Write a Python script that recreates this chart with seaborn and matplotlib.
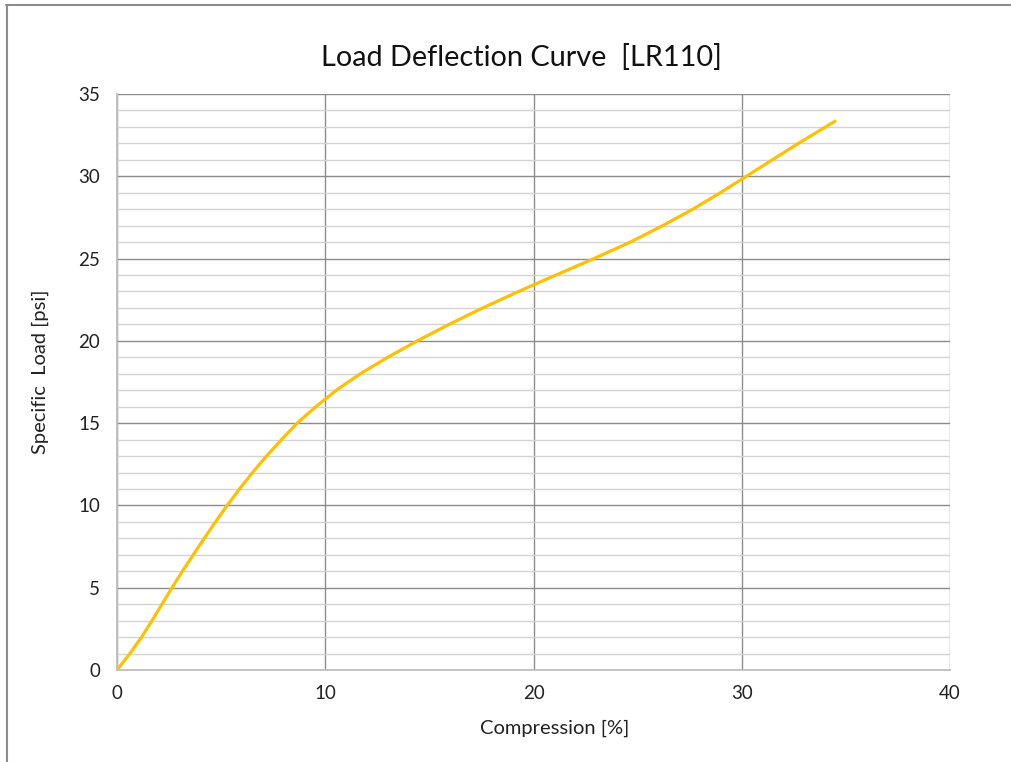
import numpy as np
import pandas as pd
import matplotlib
matplotlib.use("Agg")
import matplotlib.pyplot as plt
import seaborn as sns
from matplotlib.lines import Line2D
from matplotlib.ticker import MultipleLocator

# values
compression = [0, 0.62, 1.18, 1.68, 2.16, 2.64, 3.14, 3.66, 4.19, 4.73, 5.29,
               5.88, 6.51, 7.18, 7.90, 8.65, 9.55, 10.53, 11.68, 13.0, 14.42,
               15.94, 17.56, 19.28, 21.08, 22.9, 24.65, 26.2, 27.65, 28.97,
               30.22, 31.47, 32.72, 34.48]
specific_load = [0, 1, 2, 3, 4, 5, 6, 7, 8, 9, 10,
                 11, 12, 13, 14, 15, 16, 17, 18, 19, 20,
                 21, 22, 23, 24, 25, 26, 27, 28, 29,
                 30, 31, 32, 33.35]

title = "Load Deflection Curve  [LR110]"
x_label = "Compression [%]"
y_label = "Specific  Load [psi]"

df = pd.DataFrame({"x": compression, "y": specific_load})

sns.set_style("white")
plt.rcParams["font.family"] = ["Lato", "DejaVu Sans"]

fig = plt.figure(figsize=(10.11, 7.62), dpi=100)
ax = fig.add_axes([117 / 1011, 1 - 670 / 762, (950 - 117) / 1011, (670 - 94) / 762])

sns.lineplot(data=df, x="x", y="y", ax=ax, color="#FFC000", linewidth=2.3)

ax.set_xlim(0, 40)
ax.set_ylim(0, 35)
ax.xaxis.set_major_locator(MultipleLocator(10))
ax.yaxis.set_major_locator(MultipleLocator(5))
ax.yaxis.set_minor_locator(MultipleLocator(1))
ax.grid(which="major", color="#8c8c8c", linewidth=1.0)
ax.grid(which="minor", axis="y", color="#d4d4d4", linewidth=1.0)
ax.set_axisbelow(True)

for side in ["top", "right"]:
    ax.spines[side].set_visible(False)
for side in ["left", "bottom"]:
    ax.spines[side].set_color("#bfbfbf")
    ax.spines[side].set_linewidth(1.3)

ax.tick_params(axis="both", which="major", direction="out", length=5, width=1,
               color="#8c8c8c", labelsize=13.5, labelcolor="#222222")
ax.tick_params(axis="x", pad=6)
ax.tick_params(axis="y", pad=7)
ax.tick_params(which="minor", length=0)

ax.set_xlabel("")
ax.set_ylabel("")
fig.text(555 / 1011, 1 - 728 / 762, x_label, ha="center", va="center",
         fontsize=14.5, color="#222222")
fig.text(40 / 1011, 1 - 372 / 762, y_label, ha="center", va="center",
         rotation=90, fontsize=14.5, color="#222222")
fig.text(521 / 1011, 1 - 58 / 762, title, ha="center", va="center",
         fontsize=20.8, color="#111111")

# chart border (top and left edges only)
fig.add_artist(Line2D([6 / 1011, 1], [1 - 5 / 762, 1 - 5 / 762],
                      transform=fig.transFigure, color="#8c8c8c", linewidth=1.5))
fig.add_artist(Line2D([6.5 / 1011, 6.5 / 1011], [0, 1 - 5 / 762],
                      transform=fig.transFigure, color="#8c8c8c", linewidth=1.5))

fig.savefig("out.png", dpi=100)
plt.close(fig)
